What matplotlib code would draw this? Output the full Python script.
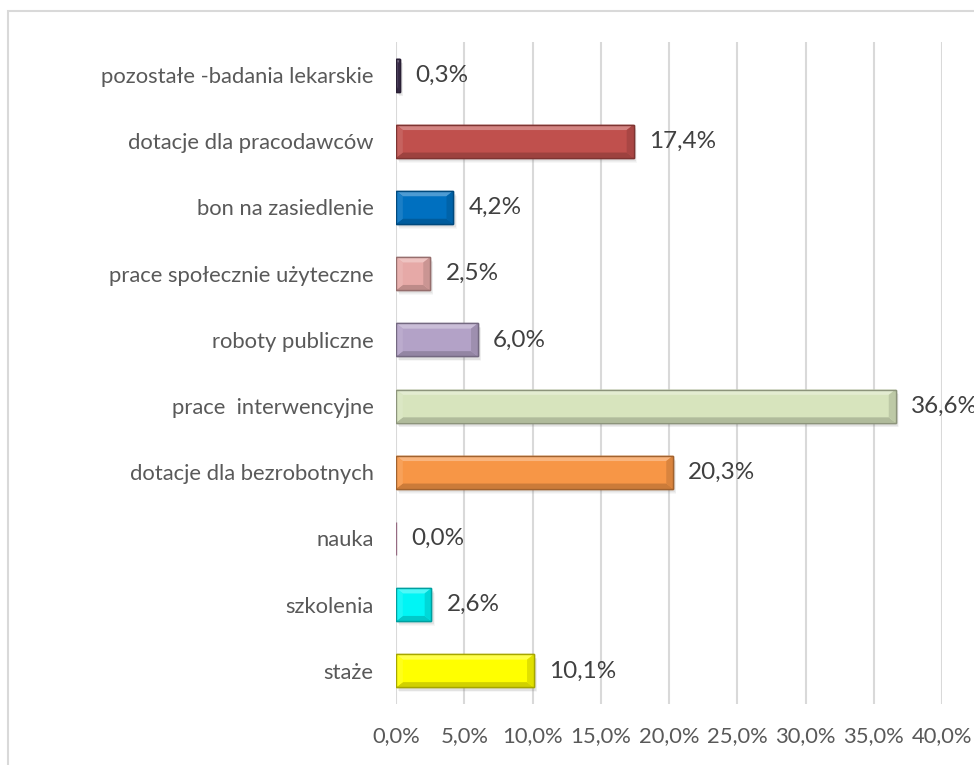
import numpy as np
import matplotlib.pyplot as plt
from matplotlib.patches import Polygon, Rectangle
from matplotlib.colors import to_rgb

plt.rcParams['font.family'] = ['Lato', 'DejaVu Sans']

# bottom to top
categories = ['staże', 'szkolenia', 'nauka', 'dotacje dla bezrobotnych',
              'prace  interwencyjne', 'roboty publiczne',
              'prace społecznie użyteczne', 'bon na zasiedlenie',
              'dotacje dla pracodawców', 'pozostałe -badania lekarskie']
values = [10.1, 2.6, 0.0, 20.3, 36.6, 6.0, 2.5, 4.2, 17.4, 0.3]
colors = ['#ffff00', '#00f5f5', '#e6a5c8', '#f79646', '#d7e4bd',
          '#b3a2c7', '#e6a9a7', '#0070c0', '#c0504d', '#403151']
x_ticks = [0, 5, 10, 15, 20, 25, 30, 35, 40]


def mix(c, other, t):
    c = np.array(to_rgb(c))
    return tuple(c * (1 - t) + np.array(other) * t)


def bevel_bar(ax, y, v, color, h=0.5, dx=0.5, dy=0.08):
    x0, x1 = 0.0, v
    y0, y1 = y - h / 2, y + h / 2
    # soft shadow under the bar
    for k, a in enumerate([0.10, 0.08, 0.06]):
        off = 0.06 + 0.04 * k
        ax.add_patch(Rectangle((x0 + 0.1 + off, y0 - 0.03 - off * 0.3),
                               v, h, color='#808080', alpha=a, lw=0, zorder=2))
    edge = mix(color, (0, 0, 0), 0.35)
    ax.add_patch(Rectangle((x0, y0), v, h, facecolor=color,
                           edgecolor=edge, lw=1.0, zorder=3))
    if v <= 0:
        return
    d = min(dx, v / 2)
    top = [(x0, y1), (x1, y1), (x1 - d, y1 - dy), (x0 + d, y1 - dy)]
    bot = [(x0, y0), (x1, y0), (x1 - d, y0 + dy), (x0 + d, y0 + dy)]
    left = [(x0, y0), (x0, y1), (x0 + d, y1 - dy), (x0 + d, y0 + dy)]
    right = [(x1, y0), (x1, y1), (x1 - d, y1 - dy), (x1 - d, y0 + dy)]
    ax.add_patch(Polygon(top, closed=True, color=mix(color, (1, 1, 1), 0.3), lw=0, zorder=4))
    ax.add_patch(Polygon(bot, closed=True, color=mix(color, (0, 0, 0), 0.18), lw=0, zorder=4))
    ax.add_patch(Polygon(left, closed=True, color=mix(color, (1, 1, 1), 0.1), lw=0, zorder=4))
    ax.add_patch(Polygon(right, closed=True, color=mix(color, (0, 0, 0), 0.12), lw=0, zorder=4))
    ax.add_patch(Rectangle((x0, y0), v, h, facecolor='none',
                           edgecolor=edge, lw=1.0, zorder=5))


fig = plt.figure(figsize=(9.74, 7.65), dpi=100)
ax = fig.add_axes([396 / 974, 1 - 704 / 765, 546 / 974, 662 / 765])

# chart area frame
fig.patches.append(Rectangle((8 / 974, -0.1), 2, 1 - 11 / 765 + 0.1,
                             transform=fig.transFigure, fill=False,
                             edgecolor='#d9d9d9', lw=1.5, zorder=0))

ypos = np.arange(len(categories))
for y, v, c in zip(ypos, values, colors):
    bevel_bar(ax, y, v, c)
    ax.annotate(f'{v:.1f}%'.replace('.', ','), (v, y), xytext=(11, 0),
                textcoords='offset points', ha='left', va='center',
                fontsize=17.5, color='#404040', zorder=6, annotation_clip=False)

ax.set_xlim(0, 40)
ax.set_ylim(-0.5, len(categories) - 0.5)
ax.set_xticks(x_ticks)
ax.set_xticklabels([f'{t:.1f}%'.replace('.', ',') for t in x_ticks])
ax.set_yticks(ypos)
ax.set_yticklabels(categories)
ax.tick_params(axis='both', length=0, labelsize=15.8, colors='#595959')
ax.tick_params(axis='x', pad=16)
ax.tick_params(axis='y', pad=16)
ax.grid(axis='x', color='#d9d9d9', lw=1.5, zorder=0)
ax.set_axisbelow(True)
for s in ax.spines.values():
    s.set_visible(False)

fig.savefig('out.png', dpi=100)
